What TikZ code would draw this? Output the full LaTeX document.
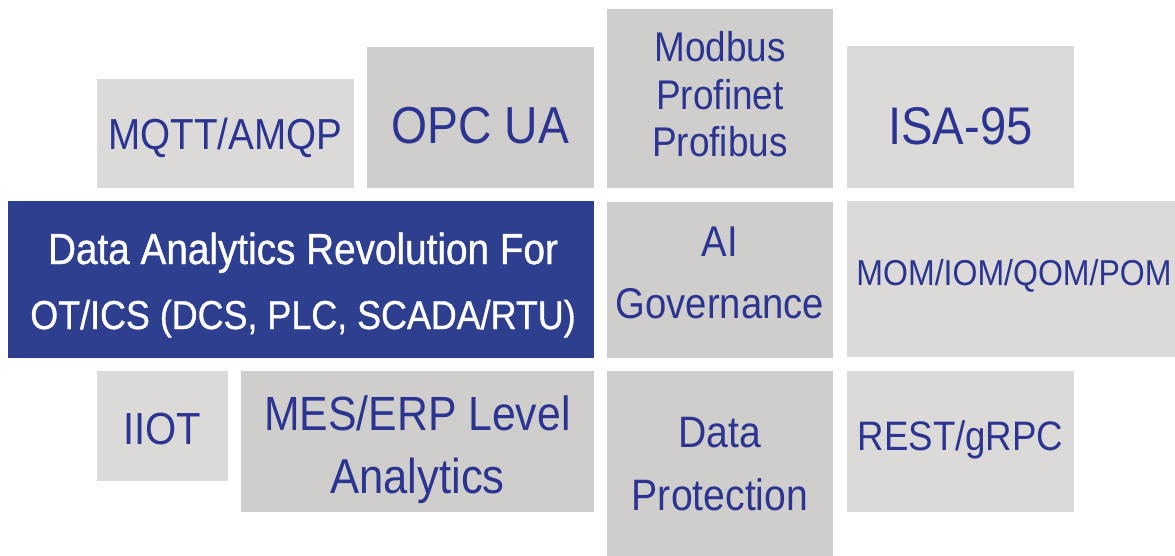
\documentclass[tikz,border=0pt]{standalone}
\usepackage{fontspec}
\setmainfont{Liberation Sans}[FakeStretch=0.89]
\newfontfamily\medfont{Liberation Sans}[FakeStretch=0.89, FakeBold=0.8]
\definecolor{lgray}{HTML}{DBDAD9}
\definecolor{dgray}{HTML}{CFCECC}
\definecolor{mainblue}{HTML}{2F3F8F}
\definecolor{txtblue}{HTML}{2B3591}
\tikzset{
  boxbase/.style={anchor=north west, inner sep=0pt, outer sep=0pt, draw=none},
  lbox/.style={boxbase, fill=lgray},
  dbox/.style={boxbase, fill=dgray},
  bbox/.style={boxbase, fill=mainblue},
  lbl/.style={anchor=base, inner sep=0pt, text=txtblue},
  wlbl/.style={anchor=base, inner sep=0pt, text=white},
}
\newcommand{\fsz}[1]{\fontsize{#1}{#1}\selectfont}
\begin{document}
\begin{tikzpicture}[x=1pt, y=-1pt]
\useasboundingbox (0,0) rectangle (1175,556);
\begin{scope}
\clip (0,0) rectangle (1175,556);
% boxes
\node[lbox, minimum width=257pt, minimum height=109pt] (mqtt) at (97,79) {};
\node[dbox, minimum width=227pt, minimum height=141pt] (opc) at (367,47) {};
\node[dbox, minimum width=226pt, minimum height=179pt] (modbus) at (607,9) {};
\node[lbox, minimum width=227pt, minimum height=142pt] (isa) at (847,46) {};
\node[bbox, minimum width=586pt, minimum height=157pt] (main) at (8,201) {};
\node[dbox, minimum width=226pt, minimum height=156pt] (ai) at (607,202) {};
\node[lbox, minimum width=340pt, minimum height=156pt] (mom) at (847,201) {};
\node[lbox, minimum width=131pt, minimum height=110pt] (iiot) at (97,371) {};
\node[dbox, minimum width=353pt, minimum height=141pt] (mes) at (241,371) {};
\node[dbox, minimum width=226pt, minimum height=190pt] (dprot) at (607,371) {};
\node[lbox, minimum width=227pt, minimum height=141pt] (rest) at (847,371) {};
% labels
\node[lbl, font=\fsz{43.4}] (tmqtt) at (225.5,150) {MQTT/AMQP};
\node[lbl, font=\fsz{52}] (topc) at (480.5,144) {OPC UA};
\node[lbl, font=\fsz{41.5}] (tmod1) at (720,62) {Modbus};
\node[lbl, font=\fsz{41.5}] (tmod2) at (720,110) {Profinet};
\node[lbl, font=\fsz{41.5}] (tmod3) at (720,157) {Profibus};
\node[lbl, font=\fsz{53}] (tisa) at (960.5,145) {ISA-95};
\node[wlbl, font=\medfont\fsz{43.5}] (tmain1) at (303,264) {Data Analytics Revolution For};
\node[wlbl, font=\medfont\fsz{40.3}] (tmain2) at (303,329) {OT/ICS (DCS, PLC, SCADA/RTU)};
\node[lbl, font=\fsz{43}] (tai1) at (720,256) {AI};
\node[lbl, font=\fsz{43}] (tai2) at (720,318) {Governance};
\node[lbl, font=\fsz{36}] (tmom) at (1014,285) {MOM/IOM/QOM/POM};
\node[lbl, font=\fsz{45}] (tiiot) at (162.5,444) {IIOT};
\node[lbl, font=\fsz{48}] (tmes1) at (417.5,430) {MES/ERP Level};
\node[lbl, font=\fsz{49}] (tmes2) at (417.5,493) {Analytics};
\node[lbl, font=\fsz{44}] (tdp1) at (720,447) {Data};
\node[lbl, font=\fsz{44}] (tdp2) at (720,510) {Protection};
\node[lbl, font=\fsz{41.2}] (trest) at (960.5,450) {REST/gRPC};
\end{scope}
\end{tikzpicture}
\end{document}
